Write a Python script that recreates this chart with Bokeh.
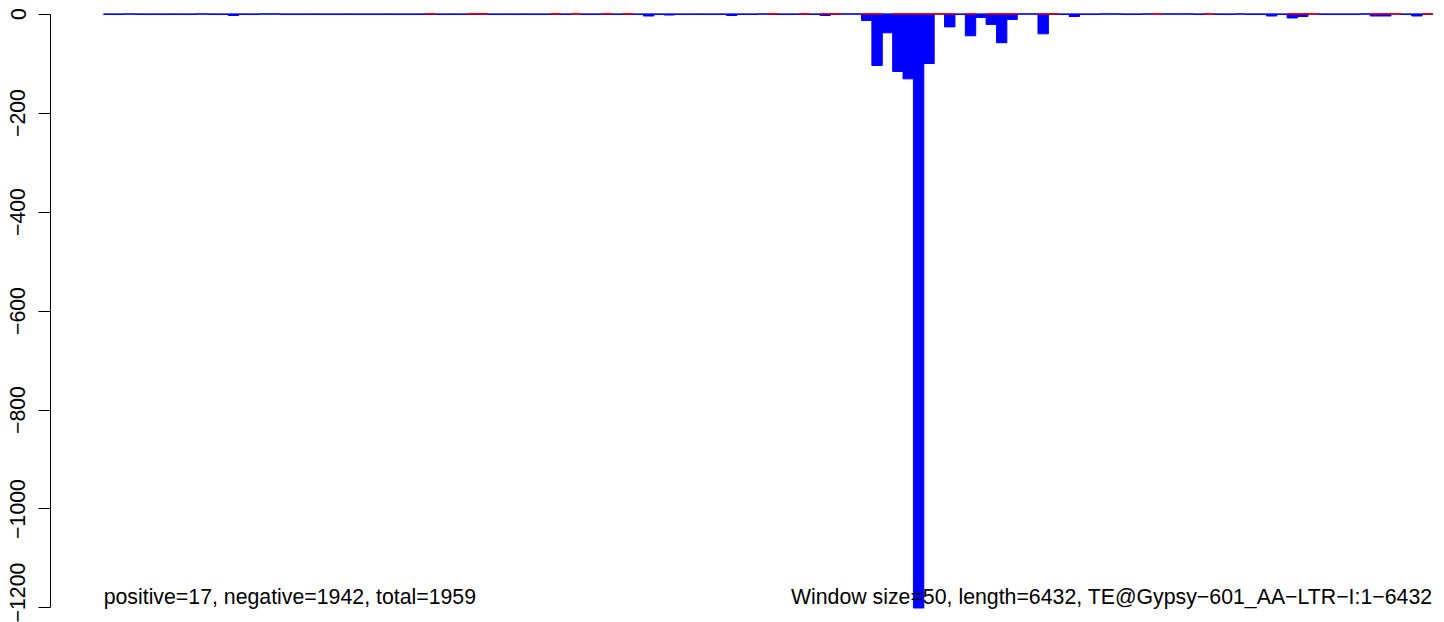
from bokeh.plotting import figure
from bokeh.models import Range1d, FixedTicker, ColumnDataSource
from bokeh.embed import file_html
from bokeh.resources import INLINE
from bokeh.core.properties import value

# ---------------- data ----------------
window_size = 50
seq_length = 6432
te_name = "TE@Gypsy\u2212601_AA\u2212LTR\u2212I:1\u22126432"
n_positive = 17
n_negative = 1942
n_total = 1959

# antisense (negative strand) counts per 50-bp window (plotted downward)
neg_counts = [
    1, 1, 0, 1, 1, 1, 1, 1, 1, 0, 1, 1, 3, 1, 1, 0,
    0, 1, 1, 1, 1, 1, 1, 1, 1, 1, 1, 1, 1, 1, 1, 1,
    1, 1, 1, 1, 1, 1, 1, 1, 1, 1, 1, 1, 1, 0, 1, 1,
    1, 1, 1, 1, 4, 1, 2, 1, 1, 1, 1, 1, 3, 1, 1, 0,
    1, 1, 1, 1, 1, 3, 1, 0, 0, 13, 104, 38, 116, 131, 1200, 100,
    0, 26, 1, 44, 7, 21, 58, 11, 0, 0, 40, 1, 1, 5, 1, 1,
    0, 0, 1, 1, 0, 0, 0, 0, 0, 1, 0, 1, 1, 0, 1, 1,
    4, 1, 8, 5, 0, 1, 1, 1, 1, 0, 4, 4, 0, 1, 4, 1,
]
# sense (positive strand) counts per window (plotted upward)
pos_counts = [
    0, 0, 0, 0, 0, 0, 0, 0, 0, 0, 0, 0, 0, 0, 0, 0,
    0, 0, 0, 0, 0, 0, 0, 0, 0, 0, 0, 0, 0, 0, 0, 1,
    0, 0, 0, 1, 1, 0, 0, 0, 0, 0, 0, 1, 0, 1, 0, 0,
    1, 0, 1, 0, 0, 0, 0, 0, 0, 0, 0, 0, 0, 0, 0, 0,
    1, 0, 0, 1, 0, 1, 1, 0, 0, 1, 1, 0, 1, 1, 1, 1,
    1, 1, 0, 1, 0, 1, 1, 1, 0, 0, 1, 1, 0, 0, 0, 0,
    0, 0, 0, 0, 0, 1, 0, 0, 0, 0, 1, 0, 0, 0, 0, 0,
    0, 0, 1, 1, 1, 0, 0, 0, 0, 0, 1, 1, 1, 0, 0, 1,
]
y_ticks = [0, -200, -400, -600, -800, -1000, -1200]

# ---------------- derived ----------------
n_win = len(neg_counts)
starts = [i * window_size for i in range(n_win)]
ends = [s + window_size for s in starts]
neg_src = ColumnDataSource(dict(left=starts, right=ends,
                                top=[0] * n_win, bottom=[-v for v in neg_counts]))
pos_idx = [i for i in range(n_win) if pos_counts[i] > 0]
pos_src = ColumnDataSource(dict(left=[starts[i] for i in pos_idx],
                                right=[ends[i] for i in pos_idx],
                                bottom=[0] * len(pos_idx),
                                top=[pos_counts[i] for i in pos_idx]))

x_lo = starts[0] - 0.04 * (ends[-1] - starts[0])
x_hi = x_lo + (ends[-1] - x_lo) * 1394.0 / 1382.0
y_top = 27.3
y_bot = -1229.3

p = figure(width=1444, height=622, output_backend="svg", toolbar_location=None,
           x_range=Range1d(x_lo, x_hi), y_range=Range1d(y_bot, y_top),
           x_axis_location=None, min_border_left=50, min_border_right=0,
           min_border_top=0, min_border_bottom=0,
           styles={"position": "absolute", "left": "0px", "top": "0px"})
p.outline_line_color = None
p.xgrid.visible = False
p.ygrid.visible = False
p.background_fill_color = "white"

# baseline
p.line(x=[starts[0], ends[-1]], y=[0, 0], line_color="#BEBEBE", line_width=2)
# negative bars
p.quad(left="left", right="right", top="top", bottom="bottom", source=neg_src,
       fill_color="#0000FF", line_color="#0000FF", line_width=1)
# positive bars
p.quad(left="left", right="right", top="top", bottom="bottom", source=pos_src,
       fill_color="#FF0000", line_color="#FF0000", line_width=1)

ax = p.yaxis[0]
ax.ticker = FixedTicker(ticks=y_ticks)
ax.bounds = (min(y_ticks), max(y_ticks))
ax.major_label_overrides = {t: (str(t).replace("-", "\u2212")) for t in y_ticks}
ax.major_label_orientation = "vertical"
ax.major_label_text_font = "Liberation Sans"
ax.major_label_text_font_size = "21.3px"
ax.major_label_text_color = "black"
ax.major_tick_out = 12
ax.major_tick_in = 0
ax.minor_tick_out = 0
ax.minor_tick_in = 0
ax.major_label_standoff = 13
ax.axis_line_color = "black"
ax.major_tick_line_color = "black"

txt_y = min(y_ticks) + 22
p.text(x=[starts[0]], y=[txt_y],
       text=["positive=%d, negative=%d, total=%d" % (n_positive, n_negative, n_total)],
       text_font=value("Liberation Sans"), text_font_size="21.3px",
       text_align="left", text_baseline="alphabetic", text_color="black")
p.text(x=[ends[-1]], y=[txt_y],
       text=["Window size=%d, length=%d, %s" % (window_size, seq_length, te_name)],
       text_font=value("Liberation Sans"), text_font_size="21.3px",
       text_align="right", text_baseline="alphabetic", text_color="black")

open("out.html", "w").write(file_html(p, INLINE))
